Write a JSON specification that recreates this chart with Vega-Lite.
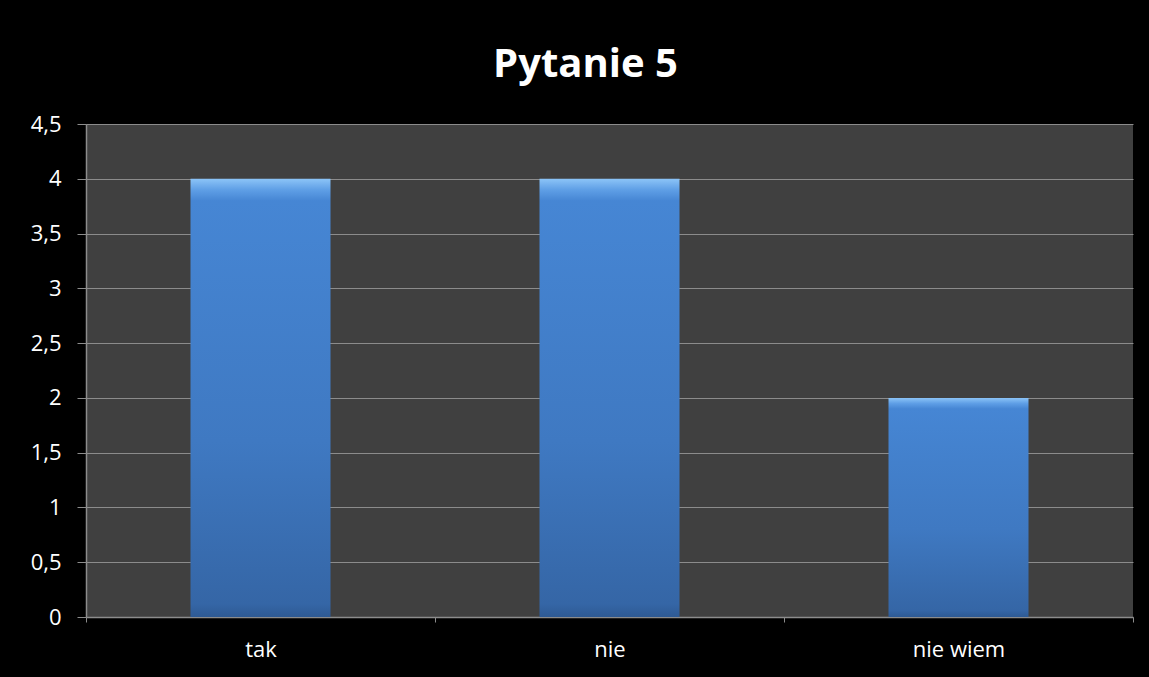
{
  "$schema": "https://vega.github.io/schema/vega-lite/v6.json",
  "autosize": "none",
  "width": 1047,
  "height": 493,
  "padding": {"left": 86, "top": 124, "right": 16, "bottom": 60},
  "background": "#000000",
  "title": {
    "text": "Pytanie 5",
    "font": "Open Sans",
    "fontSize": 40,
    "fontWeight": "bold",
    "color": "#ffffff",
    "anchor": "middle",
    "frame": "group",
    "baseline": "alphabetic",
    "offset": 46,
    "dx": -24,
    "dy": 50
  },
  "data": {
    "values": [
      {"odpowiedz": "tak", "liczba": 4},
      {"odpowiedz": "nie", "liczba": 4},
      {"odpowiedz": "nie wiem", "liczba": 2}
    ]
  },
  "mark": {
    "type": "bar",
    "size": 140,
    "color": {
      "gradient": "linear",
      "x1": 0, "y1": 0, "x2": 0, "y2": 1,
      "stops": [
        {"offset": 0, "color": "#8cc4f7"},
        {"offset": 0.025, "color": "#5f9fe6"},
        {"offset": 0.05, "color": "#4686d4"},
        {"offset": 0.6, "color": "#3f79c2"},
        {"offset": 0.97, "color": "#3566a6"},
        {"offset": 1, "color": "#2e5a94"}
      ]
    }
  },
  "encoding": {
    "x": {
      "field": "odpowiedz",
      "type": "nominal",
      "sort": null,
      "scale": {"paddingInner": 0, "paddingOuter": 0},
      "axis": {
        "title": null,
        "labelAngle": 0,
        "labelFont": "Open Sans",
        "labelFontSize": 22,
        "labelColor": "#ffffff",
        "labelPadding": 17,
        "tickBand": "extent",
        "tickSize": 5,
        "tickColor": "#8c8c8c",
        "domainColor": "#8c8c8c",
        "domainWidth": 1.5,
        "grid": false
      }
    },
    "y": {
      "field": "liczba",
      "type": "quantitative",
      "scale": {"domain": [0, 4.5], "nice": false},
      "axis": {
        "title": null,
        "values": [0, 0.5, 1, 1.5, 2, 2.5, 3, 3.5, 4, 4.5],
        "labelExpr": "replace(toString(datum.value), '.', ',')",
        "labelFont": "Open Sans",
        "labelFontSize": 22,
        "labelColor": "#ffffff",
        "labelPadding": 16,
        "tickSize": 9,
        "tickColor": "#8c8c8c",
        "domainColor": "#8c8c8c",
        "domainWidth": 1.5,
        "grid": true,
        "gridColor": "#8c8c8c",
        "gridWidth": 1
      }
    }
  },
  "config": {
    "view": {"fill": "#404040", "stroke": null}
  }
}
